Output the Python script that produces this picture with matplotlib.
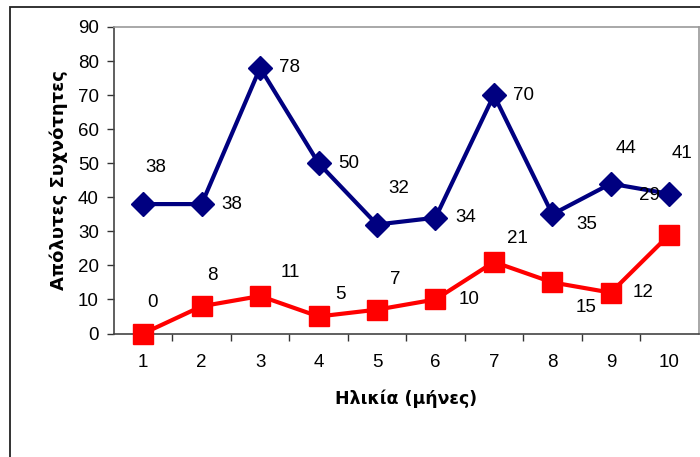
import matplotlib
matplotlib.use("Agg")
import matplotlib.pyplot as plt
from matplotlib.patches import Rectangle

months = [1, 2, 3, 4, 5, 6, 7, 8, 9, 10]
series_blue = [38, 38, 78, 50, 32, 34, 70, 35, 44, 41]
series_red = [0, 8, 11, 5, 7, 10, 21, 15, 12, 29]
y_ticks = [0, 10, 20, 30, 40, 50, 60, 70, 80, 90]
x_label = "Ηλικία (μήνες)"
y_label = "Απόλυτες Συχνότητες"

# label offsets in points (style, not data)
off_blue = [(9, 26), (22, 0), (21, 0), (22, 0), (16, 26), (22, 0), (21, 0), (25, -7), (11, 25), (9, 29)]
off_red = [(7, 22), (8, 22), (22, 17), (16, 16), (13, 22), (24, 0), (17, 17), (24, -18), (23, 0), (-14, 28)]

plt.rcParams['font.family'] = ['Liberation Sans', 'DejaVu Sans']

fig = plt.figure(figsize=(7, 4.57), dpi=100)
W, H = 700, 457
left, right, top, bottom = 114, 698.5, 27, 333.5
ax = fig.add_axes([left / W, 1 - bottom / H, (right - left) / W, (bottom - top) / H])

fig.patches.append(Rectangle((10 / W, -0.1), 1.2, 1 - 7 / H + 0.1, transform=fig.transFigure,
                             fill=False, edgecolor='#222222', linewidth=1.3))

ax.plot(months, series_blue, color='#000080', linewidth=3, marker='D', markersize=12,
        clip_on=False, zorder=3)
ax.plot(months, series_red, color='#FF0000', linewidth=3, marker='s', markersize=15,
        clip_on=False, zorder=3)

for xv, yv, off in zip(months, series_blue, off_blue):
    ax.annotate(str(yv), (xv, yv), xytext=off, textcoords='offset points',
                ha='center', va='center', fontsize=13.5)
for xv, yv, off in zip(months, series_red, off_red):
    ax.annotate(str(yv), (xv, yv), xytext=off, textcoords='offset points',
                ha='center', va='center', fontsize=13.5)

ax.set_xlim(0.5, 10.5)
ax.set_ylim(0, 90)
ax.set_yticks(y_ticks)
ax.set_xticks(months)
ax.set_xticks([m + 0.5 for m in months[:-1]], minor=True)
ax.tick_params(axis='x', which='major', length=0, pad=15, labelsize=13.5)
ax.tick_params(axis='x', which='minor', length=5, width=1, color='#333333', direction='out')
ax.tick_params(axis='y', length=5, width=1, color='#333333', direction='out', pad=6, labelsize=13.5)

for s in ['top', 'right']:
    ax.spines[s].set_color('#999999')
    ax.spines[s].set_linewidth(1.2)
for s in ['left', 'bottom']:
    ax.spines[s].set_color('#444444')
    ax.spines[s].set_linewidth(1.2)

ax.set_xlabel(x_label, fontsize=12.5, fontweight='bold', labelpad=13, family=['DejaVu Sans'])
ax.set_ylabel(y_label, fontsize=13, fontweight='bold', labelpad=7, family=['DejaVu Sans'])

fig.savefig("out.png", dpi=100)
